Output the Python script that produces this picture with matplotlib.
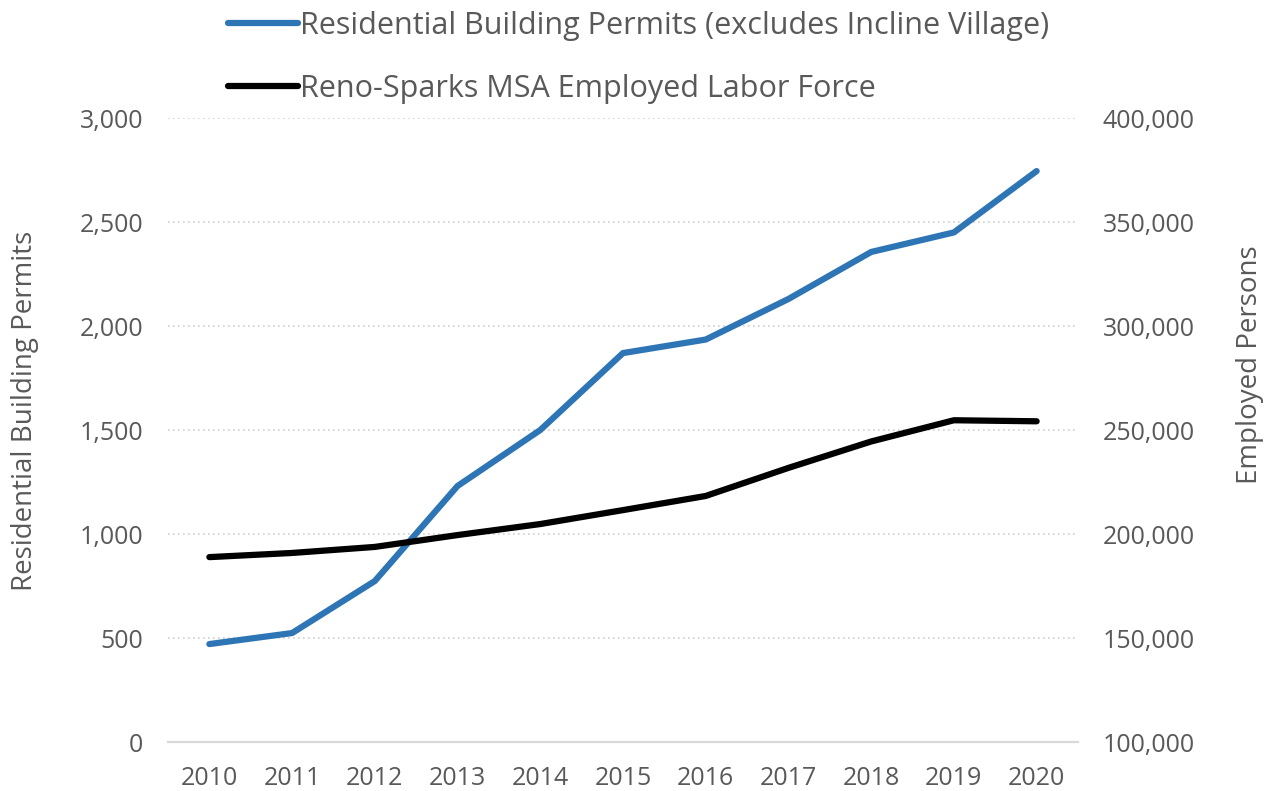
import matplotlib
matplotlib.use("Agg")
import matplotlib.pyplot as plt
from matplotlib.ticker import FuncFormatter

years = [2010, 2011, 2012, 2013, 2014, 2015, 2016, 2017, 2018, 2019, 2020]
permits = [471, 524, 774, 1231, 1500, 1870, 1935, 2130, 2356, 2450, 2745]
employed = [188900, 190900, 193800, 199500, 204800, 211500, 218300, 231800, 244500, 254700, 254200]

permits_label = "Residential Building Permits (excludes Incline Village)"
employed_label = "Reno-Sparks MSA Employed Labor Force"

grey = "#595959"
plt.rcParams["font.family"] = ["Open Sans", "DejaVu Sans"]

fig = plt.figure(figsize=(12.66, 7.91), dpi=100)
ax = fig.add_axes([0.1327, 0.0619, 0.7188, 0.7889])
ax2 = ax.twinx()

l1, = ax.plot(years, permits, color="#2e75b6", lw=4.5, solid_capstyle="round", solid_joinstyle="round", zorder=3)
l2, = ax2.plot(years, employed, color="black", lw=4.5, solid_capstyle="round", solid_joinstyle="round", zorder=3)

ax.set_xlim(2009.5, 2020.5)
ax.set_ylim(0, 3000)
ax2.set_ylim(100000, 400000)
ax.set_xticks(years)
ax.set_yticks(range(0, 3001, 500))
ax2.set_yticks(range(100000, 400001, 50000))

fmt = FuncFormatter(lambda v, p: f"{int(v):,}")
ax.yaxis.set_major_formatter(fmt)
ax2.yaxis.set_major_formatter(fmt)

ax.grid(axis="y", color="#d0d0d0", ls=(0, (1, 2)), lw=1.2)
for a in (ax, ax2):
    for s in ("top", "left", "right"):
        a.spines[s].set_visible(False)
    a.spines["bottom"].set_color("#d9d9d9")
    a.spines["bottom"].set_linewidth(1.5)
    a.tick_params(length=0, labelsize=18, labelcolor=grey)
ax.tick_params(axis="y", pad=18)
ax2.tick_params(axis="y", pad=18)
ax.tick_params(axis="x", pad=17)

# axis titles placed by pixel centre from the reference
fig.text(25 / 1266, 1 - 411 / 791, "Residential Building Permits", rotation=90,
         ha="center", va="center", fontsize=20, color=grey)
fig.text(1250 / 1266, 1 - 365 / 791, "Employed Persons", rotation=90,
         ha="center", va="center", fontsize=20, color=grey)

fig.legend([l1, l2], [permits_label, employed_label], loc="upper left",
           bbox_to_anchor=(228 / 1266, 1 - 11 / 791), frameon=False, fontsize=22,
           labelcolor=grey, handlelength=2.3, handletextpad=0.05,
           labelspacing=1.08, borderpad=0, borderaxespad=0)

fig.savefig("out.png", dpi=100)
